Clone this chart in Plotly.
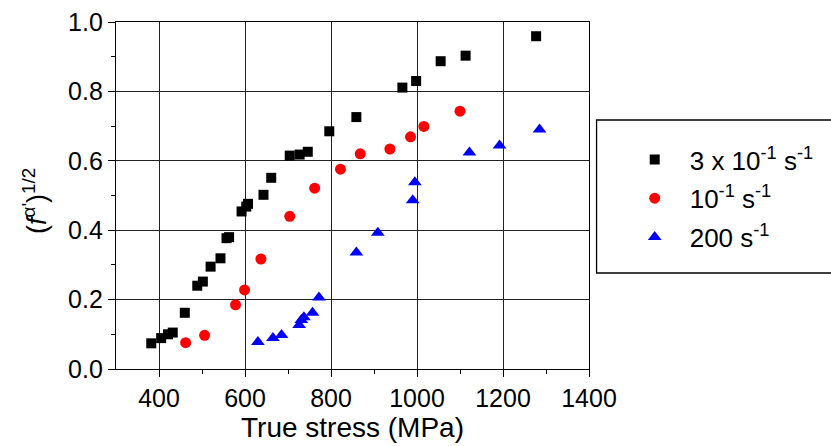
import plotly.graph_objects as go

# True stress (MPa) and (f^α')^1/2 values
s1_x = [382, 405, 421, 432, 460, 489, 502, 520, 543, 557, 563, 592, 603, 607, 643, 661, 704, 727, 746, 796, 859, 966, 998, 1055, 1113, 1277]
s1_y = [0.074, 0.089, 0.100, 0.105, 0.162, 0.240, 0.252, 0.295, 0.319, 0.377, 0.380, 0.454, 0.468, 0.476, 0.502, 0.551, 0.615, 0.618, 0.626, 0.685, 0.726, 0.811, 0.830, 0.887, 0.903, 0.959]

s2_x = [462, 506, 578, 599, 637, 704, 762, 822, 868, 937, 985, 1016, 1100]
s2_y = [0.076, 0.097, 0.185, 0.228, 0.317, 0.440, 0.521, 0.576, 0.620, 0.634, 0.669, 0.699, 0.743]

s3_x = [630, 665, 685, 726, 731, 737, 757, 772, 859, 909, 990, 995, 1122, 1192, 1285]
s3_y = [0.078, 0.089, 0.098, 0.127, 0.141, 0.149, 0.162, 0.206, 0.336, 0.393, 0.486, 0.538, 0.624, 0.644, 0.690]

names = ["3 x 10<sup>-1</sup> s<sup>-1</sup>", "10<sup>-1</sup> s<sup>-1</sup>", "200 s<sup>-1</sup>"]

FONT = "Liberation Sans, Arial, sans-serif"

fig = go.Figure()
fig.add_trace(go.Scatter(x=s1_x, y=s1_y, mode="markers", name=names[0], legendgroup="a",
                         marker=dict(symbol="square", size=10, color="black")))
fig.add_trace(go.Scatter(x=s2_x, y=s2_y, mode="markers", name=names[1], legendgroup="b",
                         marker=dict(symbol="circle", size=11, color="#ff0000")))
fig.add_trace(go.Scatter(x=s3_x, y=s3_y, mode="markers", name=names[2], legendgroup="c",
                         marker=dict(symbol="triangle-up", size=12, color="#0000ff")))

axis_common = dict(
    showline=True, linecolor="black", linewidth=1.3, mirror=True,
    showgrid=True, gridcolor="#222222", gridwidth=1.2,
    ticks="outside", ticklen=7, tickwidth=1.2, tickcolor="black",
    zeroline=False,
    tickfont=dict(family=FONT, size=25, color="black"),
)

fig.update_layout(
    width=831, height=446,
    margin=dict(l=116, r=242, t=22, b=77, autoexpand=False),
    paper_bgcolor="white", plot_bgcolor="white",
    font=dict(family=FONT, size=25, color="black"),
    xaxis=dict(range=[300, 1400], tickvals=[400, 600, 800, 1000, 1200, 1400],
               minor=dict(tickvals=[500, 700, 900, 1100, 1300], ticks="outside", ticklen=4,
                          tickwidth=1.2, tickcolor="black", showgrid=False),
               title=dict(text="True stress (MPa)", font=dict(family=FONT, size=28), standoff=2),
               **axis_common),
    yaxis=dict(range=[0, 1.0], tickvals=[0, 0.2, 0.4, 0.6, 0.8, 1.0], tickformat=".1f",
               minor=dict(tickvals=[0.1, 0.3, 0.5, 0.7, 0.9], ticks="outside", ticklen=4,
                          tickwidth=1.2, tickcolor="black", showgrid=False),
               **axis_common),
    annotations=[dict(text="(<i>f</i><sup>α'</sup>)<sup>1/2</sup>", xref="paper", yref="paper",
                      x=(35 - 116) / 473, y=(369 - 201) / 347, xanchor="center", yanchor="middle",
                      textangle=-90, showarrow=False, font=dict(family=FONT, size=27, color="black"))],
    legend=dict(x=(620 - 116.3) / 473, xref="paper", xanchor="left", y=(369 - 136) / 347, yanchor="top",
                bgcolor="rgba(0,0,0,0)", borderwidth=0,
                font=dict(family=FONT, size=26, color="black"),
                itemwidth=60, tracegroupgap=2),
    shapes=[dict(type="rect", xref="paper", yref="paper",
                 x0=1.016, x1=1.6, y0=(369 - 273) / 347, y1=(369 - 120) / 347,
                 line=dict(color="black", width=1.3), fillcolor="rgba(0,0,0,0)")],
)

fig.write_html("out.html")
